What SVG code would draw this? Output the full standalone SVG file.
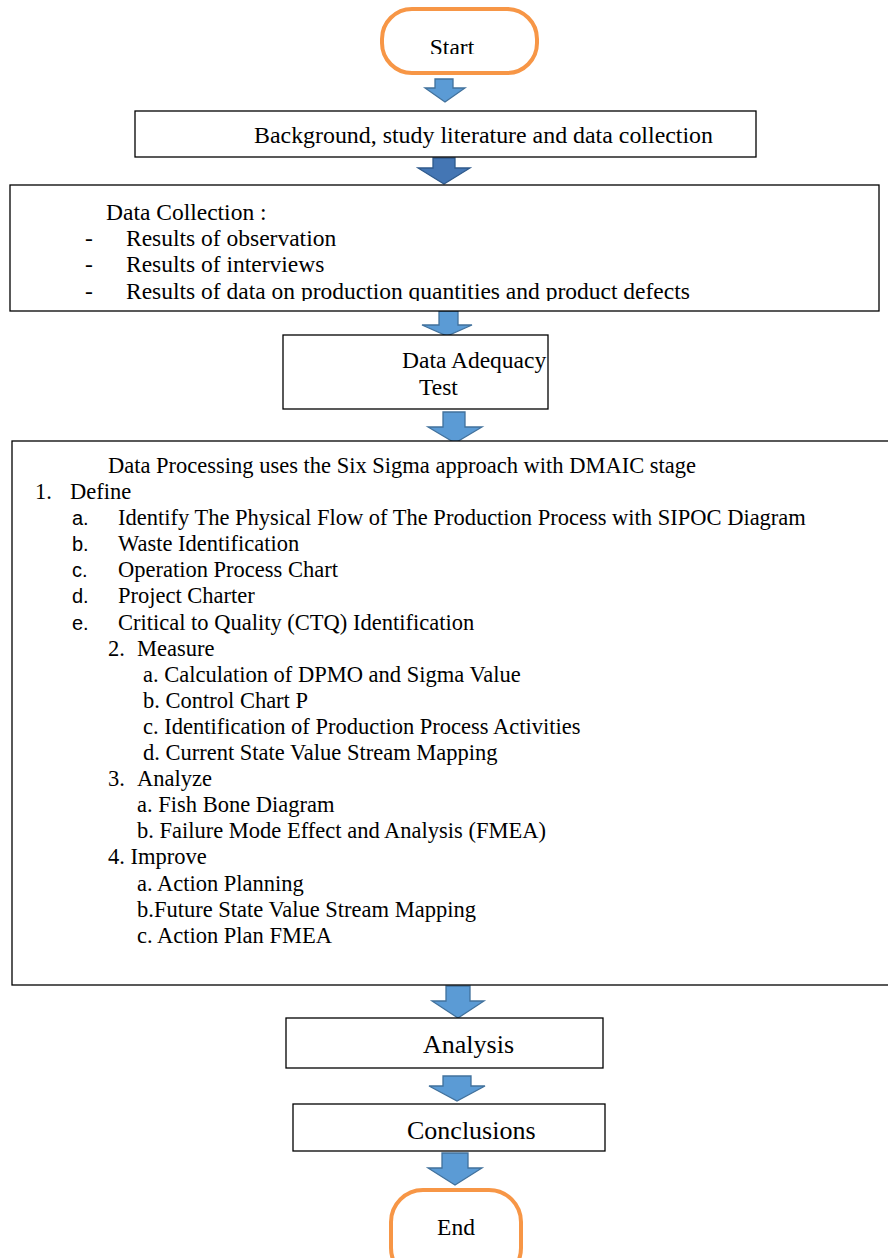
<svg xmlns="http://www.w3.org/2000/svg" width="888" height="1258" viewBox="0 0 888 1258">
  <style>
    .box { fill: #ffffff; stroke: #000000; stroke-width: 1.3; }
    .term { fill: #ffffff; stroke: #F79646; stroke-width: 4; }
    .arrow { fill: #5B9BD5; stroke: #41719C; stroke-width: 1.3; }
    .arrow-dark { fill: #4476B4; stroke: #2F5A8C; stroke-width: 1.3; }
    text { font-family: "Liberation Serif", "Times New Roman", serif; fill: #000000; }
    .t235 { font-size: 23.5px; }
    .t225 { font-size: 22.5px; }
    .t26 { font-size: 26px; }
    .lbl { font-family: "Liberation Sans", Arial, sans-serif; font-size: 20px; }
  </style>
  <defs>
    <clipPath id="clipStart"><rect x="370" y="0" width="180" height="54"/></clipPath>
    <clipPath id="clipCollect"><rect x="0" y="185" width="888" height="116"/></clipPath>
  </defs>
  <rect width="888" height="1258" fill="#ffffff"/>

  <!-- block-arrow connectors -->
  <g id="connectors">
    <path class="arrow" d="M435,79 H453 V88 H465 L445,102 L425,88 H435 Z"/>
    <path class="arrow-dark" d="M433,158 H455 V168 H470 L444,184 L418,168 H433 Z"/>
    <path class="arrow" d="M439,311 H458 V325 H472 L447,336 L422,325 H439 Z"/>
    <path class="arrow" d="M443,412 H465 V427 H482 L455,443 L428,427 H443 Z"/>
    <path class="arrow" d="M446,986 H470 V1001 H484 L458,1018 L432,1001 H446 Z"/>
    <path class="arrow" d="M443,1076 H471 V1086 H485 L457,1101 L429,1086 H443 Z"/>
    <path class="arrow" d="M442,1153 H468 V1168 H482 L455,1185 L428,1168 H442 Z"/>
  </g>

  <g id="start">
    <rect class="term" x="382" y="9" width="155" height="64" rx="30" ry="30"/>
    <text class="t235" x="452" y="55" text-anchor="middle" font-size="22" clip-path="url(#clipStart)">Start</text>
  </g>

  <g id="background">
    <rect class="box" x="135" y="111" width="621" height="46"/>
    <text class="t235" x="254" y="143" textLength="459" lengthAdjust="spacingAndGlyphs">Background, study literature and data collection</text>
  </g>

  <g id="data-collection">
    <rect class="box" x="10" y="185" width="869" height="126"/>
    <g clip-path="url(#clipCollect)">
      <text class="t235" x="106" y="220">Data Collection :</text>
      <text class="t235" x="85" y="246">-</text>
      <text class="t235" x="126" y="246">Results of observation</text>
      <text class="t235" x="85" y="272">-</text>
      <text class="t235" x="126" y="272">Results of interviews</text>
      <text class="t235" x="85" y="299">-</text>
      <text class="t235" x="126" y="299">Results of data on production quantities and product defects</text>
    </g>
  </g>

  <g id="adequacy">
    <rect class="box" x="283" y="335" width="265" height="74"/>
    <text class="t235" x="402" y="368">Data Adequacy</text>
    <text class="t235" x="419" y="395">Test</text>
  </g>

  <g id="processing">
    <rect class="box" x="12" y="441" width="890" height="544"/>
    <text class="t225" x="108" y="473">Data Processing uses the Six Sigma approach with DMAIC stage</text>
    <text class="t225" x="35" y="499">1.</text>
    <text class="t225" x="70" y="499">Define</text>
    <text class="lbl" x="72" y="525">a.</text>
    <text class="t225" x="118" y="525">Identify The Physical Flow of The Production Process with SIPOC Diagram</text>
    <text class="lbl" x="72" y="551">b.</text>
    <text class="t225" x="118" y="551">Waste Identification</text>
    <text class="lbl" x="72" y="577">c.</text>
    <text class="t225" x="118" y="577">Operation Process Chart</text>
    <text class="lbl" x="72" y="603">d.</text>
    <text class="t225" x="118" y="603">Project Charter</text>
    <text class="lbl" x="72" y="630">e.</text>
    <text class="t225" x="118" y="630">Critical to Quality (CTQ) Identification</text>
    <text class="t225" x="108" y="656">2.</text>
    <text class="t225" x="137" y="656">Measure</text>
    <text class="t225" x="143" y="682">a. Calculation of DPMO and Sigma Value</text>
    <text class="t225" x="143" y="708">b. Control Chart P</text>
    <text class="t225" x="143" y="734">c. Identification of Production Process Activities</text>
    <text class="t225" x="143" y="760">d. Current State Value Stream Mapping</text>
    <text class="t225" x="108" y="786">3.</text>
    <text class="t225" x="137" y="786">Analyze</text>
    <text class="t225" x="137" y="812">a. Fish Bone Diagram</text>
    <text class="t225" x="137" y="838">b. Failure Mode Effect and Analysis (FMEA)</text>
    <text class="t225" x="108" y="864">4. Improve</text>
    <text class="t225" x="137" y="891">a. Action Planning</text>
    <text class="t225" x="137" y="917">b.Future State Value Stream Mapping</text>
    <text class="t225" x="137" y="943">c. Action Plan FMEA</text>
  </g>

  <g id="analysis">
    <rect class="box" x="286" y="1018" width="317" height="50"/>
    <text class="t26" x="423" y="1053">Analysis</text>
  </g>

  <g id="conclusions">
    <rect class="box" x="293" y="1104" width="312" height="47"/>
    <text class="t26" x="407" y="1139">Conclusions</text>
  </g>

  <g id="end">
    <rect class="term" x="391" y="1190" width="130" height="90" rx="32" ry="32"/>
    <text class="t235" x="456" y="1235" text-anchor="middle" font-size="24">End</text>
  </g>
</svg>
